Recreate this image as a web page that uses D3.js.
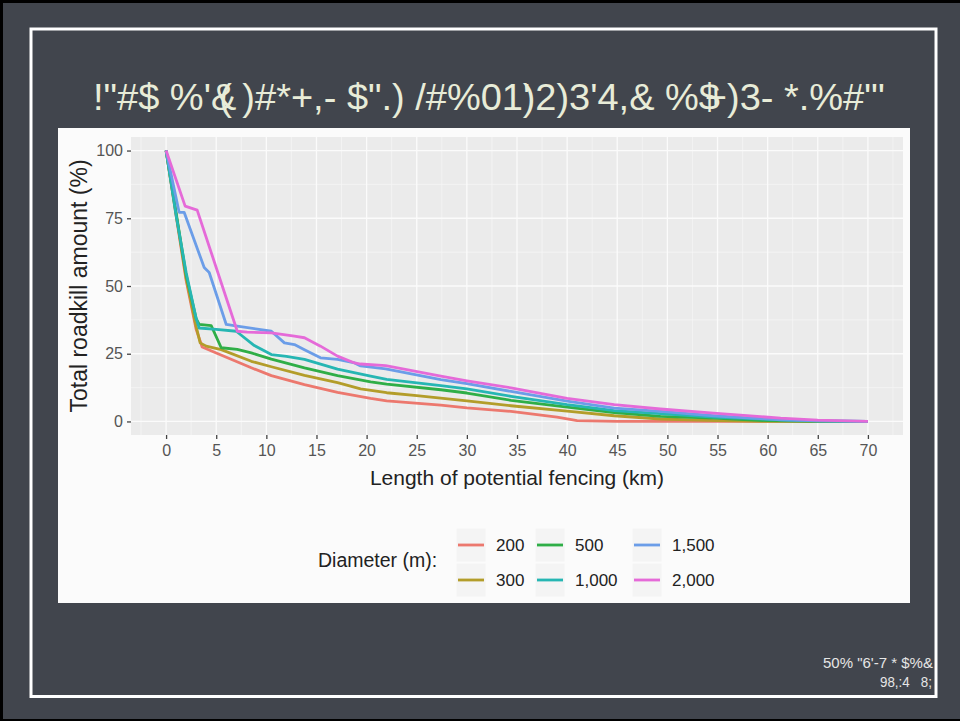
<!DOCTYPE html>
<html>
<head>
<meta charset="utf-8">
<script src="https://cdn.jsdelivr.net/npm/d3@7"></script>
<style>
  html, body { margin: 0; padding: 0; background: #000; }
  svg { display: block; }
  .pre { white-space: pre; }
</style>
</head>
<body>
<svg id="slide" width="960" height="721"></svg>
<script>
// ---- chart data -------------------------------------------------------
const xTicks = [0, 5, 10, 15, 20, 25, 30, 35, 40, 45, 50, 55, 60, 65, 70];
const yTicks = [0, 25, 50, 75, 100];
const diameters = ["200", "300", "500", "1,000", "1,500", "2,000"];
const lineColors = ["#ec786e", "#b39d2a", "#2fae47", "#26b6b3", "#6b9de8", "#e56ad8"];

// [fencing length (km), remaining roadkill (%)]
const d200 = [[0,100],[1,76],[2,52],[3,34],[3.6,27.5],[5,25.3],[8.5,19.8],[10.5,16.9],[13.8,13.6],[17.1,10.7],[20.4,8.5],[22,7.6],[27.4,6.0],[30,5.0],[34.4,3.7],[39,1.6],[41,0.3],[45,0],[70,0]];
const d300 = [[0,100],[1,76.5],[2,53],[3,35],[3.4,29],[4,27.8],[5.5,26.5],[8.5,22.2],[10.5,20.2],[13.8,17],[17.1,14.3],[19.4,12],[22,10.6],[25,9.5],[30,7.6],[34.4,5.8],[40,3.8],[44.7,2.1],[49.3,0.9],[55,0.3],[60,0],[70,0]];
const d500 = [[0,100],[1,77],[2,54],[3,38],[3.3,35.8],[4.5,35.4],[5.5,27.2],[7.1,26.6],[8.5,25.3],[10.5,23],[13.8,19.8],[17.1,16.9],[20.4,14.6],[22,13.8],[27.4,11.7],[30,10.5],[34.4,7.8],[40,5.3],[44.7,3.3],[49.3,1.9],[54.6,1.2],[60,0.3],[65,0],[70,0]];
const d1000 = [[0,100],[1,76],[2,55],[3,38],[3.3,34.5],[5,34],[7,33.3],[8.8,28],[10.5,24.7],[12,24],[13.8,22.9],[17.1,19.3],[20.4,16.7],[22,15.5],[27.4,13.2],[30,12],[34.4,9.3],[40,6.2],[44.7,4],[49.3,2.9],[54.6,1.6],[60,0.8],[65,0.2],[70,0]];
const d1500 = [[0,100],[1.3,77.2],[1.8,77.2],[3.8,56.8],[4.3,55],[6,35.8],[7.1,35.2],[10.5,33.3],[11.8,29],[12.8,28.4],[13.8,26.5],[15.4,23.5],[17.1,22.9],[18.8,21.6],[19.4,20.5],[21.9,19.4],[27.4,15.4],[30,14],[34.4,11.1],[40,7.5],[44.7,4.9],[49.3,3.7],[54.6,2.1],[61.3,0.6],[65,0.2],[70,0]];
const d2000 = [[0,100],[1.9,79.5],[3.1,78],[7.1,33.3],[8.1,33],[10.5,32.7],[12.8,31.5],[13.8,30.9],[15.4,27.8],[17.1,24.1],[18.8,21.6],[19.4,21.2],[21.9,20.6],[27.4,16.7],[30,15],[34.4,12.4],[40,8.5],[44.7,6.2],[49.3,4.6],[54.6,3.1],[61.3,1.2],[65,0.5],[70,0]];
const allSeries = [d200, d300, d500, d1000, d1500, d2000];

// ---- slide frame ------------------------------------------------------
const svg = d3.select("#slide");
const FONT = "'Liberation Sans', Arial, sans-serif";

svg.append("rect").attr("width", 960).attr("height", 721).attr("fill", "#000");
svg.append("rect").attr("x", 3).attr("y", 3).attr("width", 957).attr("height", 716).attr("fill", "#41454d");
svg.append("rect").attr("x", 31).attr("y", 29).attr("width", 905).attr("height", 667.5)
  .attr("fill", "none").attr("stroke", "#ffffff").attr("stroke-width", 3);

// fit a text element horizontally into a given span
function fitWidth(sel, x0, w) {
  const bw = sel.node().getBBox().width;
  if (bw > 0) sel.attr("transform", `translate(${x0},0) scale(${w / bw},1) translate(${-x0},0)`);
}

// heading
const title = svg.append("text").attr("x", 93).attr("y", 110)
  .attr("font-family", "'Liberation Sans Narrow', 'Liberation Sans', Arial, sans-serif")
  .attr("font-size", 37).attr("fill", "#e8ecd8");
title.append("tspan").text('!"#$ %\'&');
title.append("tspan").attr("dx", "-0.45em").text('( )#*+,- $".) /#%01\'');
title.append("tspan").attr("dx", "-0.2em").text(')2)3\'4,& %$');
title.append("tspan").attr("dx", "-0.4em").text('+)3- *.%#"\'');
fitWidth(title, 93, 792);

// footer note
const foot1 = svg.append("text").attr("class", "pre").attr("x", 823).attr("y", 668)
  .attr("font-family", FONT).attr("font-size", 15).attr("fill", "#e6e6e6")
  .text('50% "6\'-7 * $%&');
fitWidth(foot1, 823, 110);
const foot2 = svg.append("text").attr("class", "pre").attr("x", 880).attr("y", 687)
  .attr("font-family", FONT).attr("font-size", 15).attr("fill", "#e6e6e6")
  .text('98,:4   8;');
fitWidth(foot2, 880, 52);

// ---- chart panel ------------------------------------------------------
svg.append("rect").attr("x", 58).attr("y", 128).attr("width", 852).attr("height", 475).attr("fill", "#fbfbfb");

const plot = { left: 131, right: 903, top: 137, bottom: 435 };
const x = d3.scaleLinear().domain([-3.5, 73.5]).range([plot.left, plot.right]);
const y = d3.scaleLinear().domain([-5, 105]).range([plot.bottom, plot.top]);

svg.append("rect").attr("x", plot.left).attr("y", plot.top)
  .attr("width", plot.right - plot.left).attr("height", plot.bottom - plot.top)
  .attr("fill", "#ebebeb");

const grid = svg.append("g");
const xMinor = d3.range(-2.5, 73.5, 5);
const yMinor = [12.5, 37.5, 62.5, 87.5];
grid.selectAll(".vmin").data(xMinor).join("line")
  .attr("x1", d => x(d)).attr("x2", d => x(d)).attr("y1", plot.top).attr("y2", plot.bottom)
  .attr("stroke", "#f6f6f6").attr("stroke-width", 0.7);
grid.selectAll(".hmin").data(yMinor).join("line")
  .attr("y1", d => y(d)).attr("y2", d => y(d)).attr("x1", plot.left).attr("x2", plot.right)
  .attr("stroke", "#f6f6f6").attr("stroke-width", 0.7);
grid.selectAll(".vmaj").data(xTicks).join("line")
  .attr("x1", d => x(d)).attr("x2", d => x(d)).attr("y1", plot.top).attr("y2", plot.bottom)
  .attr("stroke", "#fbfbfb").attr("stroke-width", 1.3);
grid.selectAll(".hmaj").data(yTicks).join("line")
  .attr("y1", d => y(d)).attr("y2", d => y(d)).attr("x1", plot.left).attr("x2", plot.right)
  .attr("stroke", "#fbfbfb").attr("stroke-width", 1.3);

// series lines
const line = d3.line().x(d => x(d[0])).y(d => y(d[1]));
svg.append("g").selectAll("path").data(allSeries).join("path")
  .attr("d", line).attr("fill", "none")
  .attr("stroke", (d, i) => lineColors[i])
  .attr("stroke-width", 2.8).attr("stroke-linejoin", "round").attr("stroke-linecap", "butt");

// axes
const xAxis = svg.append("g").attr("transform", `translate(0,${plot.bottom})`)
  .call(d3.axisBottom(x).tickValues(xTicks).tickSize(4).tickPadding(6));
const yAxis = svg.append("g").attr("transform", `translate(${plot.left},0)`)
  .call(d3.axisLeft(y).tickValues(yTicks).tickSize(4).tickPadding(4));
[xAxis, yAxis].forEach(a => {
  a.select(".domain").remove();
  a.selectAll(".tick line").attr("stroke", "#444").attr("stroke-width", 1.3);
  a.selectAll(".tick text").attr("fill", "#555").attr("font-size", 16).attr("font-family", FONT);
});

svg.append("text").attr("x", (plot.left + plot.right) / 2).attr("y", 485)
  .attr("text-anchor", "middle").attr("font-family", FONT).attr("font-size", 21)
  .attr("fill", "#222").text("Length of potential fencing (km)");
svg.append("text").attr("transform", `translate(87,${(plot.top + plot.bottom) / 2}) rotate(-90)`)
  .attr("text-anchor", "middle").attr("font-family", FONT).attr("font-size", 23)
  .attr("fill", "#222").text("Total roadkill amount (%)");

// legend
const legend = svg.append("g");
legend.append("text").attr("x", 318).attr("y", 567).attr("font-family", FONT)
  .attr("font-size", 19.5).attr("fill", "#222").text("Diameter (m):");
const colX = [456, 535, 632];
const rowY = [545, 580];
diameters.forEach((lab, i) => {
  const col = Math.floor(i / 2), row = i % 2;
  const kx = colX[col], ky = rowY[row];
  legend.append("rect").attr("x", kx).attr("y", ky - 17).attr("width", 30).attr("height", 34)
    .attr("fill", "#f4f4f4").attr("stroke", "#fbfbfb").attr("stroke-width", 1);
  legend.append("line").attr("x1", kx + 2).attr("x2", kx + 28).attr("y1", ky).attr("y2", ky)
    .attr("stroke", lineColors[i]).attr("stroke-width", 2.8);
  legend.append("text").attr("x", kx + 40).attr("y", ky + 6).attr("font-family", FONT)
    .attr("font-size", 17).attr("fill", "#222").text(lab);
});
</script>
</body>
</html>
